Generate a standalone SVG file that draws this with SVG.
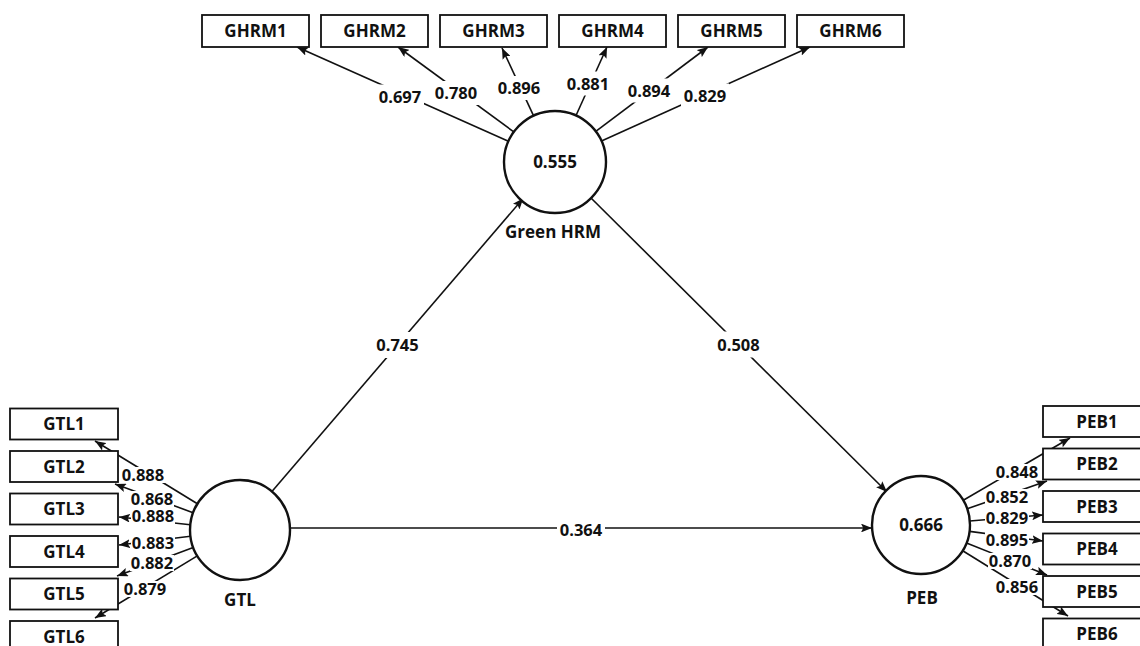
<svg xmlns="http://www.w3.org/2000/svg" width="1140" height="646" viewBox="0 0 1140 646">
<defs>
<marker id="ah" viewBox="0 0 10 8" markerWidth="11" markerHeight="8.8" refX="10" refY="4" orient="auto" markerUnits="userSpaceOnUse">
<path d="M0,0 L10,4 L0,8 L2,4 z" fill="#111"/>
</marker>
<style>
.ln{stroke:#111;stroke-width:1.6;fill:none;marker-end:url(#ah)}
.bx{fill:#fff;stroke:#111;stroke-width:1.8}
.cr{fill:#fff;stroke:#111;stroke-width:2.4}
.t{font-family:"Open Sans","Noto Sans","DejaVu Sans",sans-serif;font-weight:bold;fill:#111;text-anchor:middle}
.nm{font-size:17px}
.v{font-size:16.5px}
.bg{fill:#fff}
</style>
</defs>
<rect width="1140" height="646" fill="#fff"/>
<g id="connectors">
<line class="ln" x1="271.7" y1="491.7" x2="523.3" y2="198.3"/>
<line class="ln" x1="590" y1="197" x2="887" y2="492"/>
<line class="ln" x1="290" y1="528" x2="872" y2="528"/>
<line class="ln" x1="508.4" y1="141.2" x2="297" y2="47"/>
<line class="ln" x1="513.8" y1="131.9" x2="398" y2="47"/>
<line class="ln" x1="533.5" y1="115.7" x2="502" y2="48"/>
<line class="ln" x1="576" y1="115.5" x2="607" y2="47"/>
<line class="ln" x1="595.8" y1="131.4" x2="708" y2="47"/>
<line class="ln" x1="601.5" y1="141" x2="810" y2="47"/>
<line class="ln" x1="197.4" y1="503.8" x2="95" y2="441"/>
<line class="ln" x1="193.1" y1="512.7" x2="115" y2="484"/>
<line class="ln" x1="190.3" y1="524.7" x2="119" y2="517"/>
<line class="ln" x1="190.4" y1="536.2" x2="119" y2="545"/>
<line class="ln" x1="193.2" y1="547.5" x2="117" y2="576"/>
<line class="ln" x1="197.3" y1="555.9" x2="95" y2="618"/>
<line class="ln" x1="963.3" y1="500.3" x2="1070" y2="438"/>
<line class="ln" x1="967.2" y1="508.8" x2="1047" y2="481"/>
<line class="ln" x1="969.8" y1="521" x2="1043" y2="515"/>
<line class="ln" x1="969.6" y1="531.4" x2="1043" y2="541"/>
<line class="ln" x1="966.5" y1="543.1" x2="1047" y2="575"/>
<line class="ln" x1="962.7" y1="550.8" x2="1068" y2="616"/>
</g>
<g id="connector-labels">
<rect class="bg" x="373.5" y="332" width="48" height="26"/><text class="t v" x="397.5" y="351">0.745</text>
<rect class="bg" x="714.5" y="331.5" width="48" height="26"/><text class="t v" x="738.5" y="350.5">0.508</text>
<rect class="bg" x="557" y="518" width="48" height="24"/><text class="t v" x="581" y="536">0.364</text>
<rect class="bg" x="376" y="84.5" width="48" height="24"/><text class="t v" x="400" y="102.5">0.697</text>
<rect class="bg" x="432" y="81" width="48" height="24"/><text class="t v" x="456" y="99">0.780</text>
<rect class="bg" x="495" y="76" width="48" height="24"/><text class="t v" x="519" y="94">0.896</text>
<rect class="bg" x="564" y="71.5" width="48" height="24"/><text class="t v" x="588" y="89.5">0.881</text>
<rect class="bg" x="625" y="78.5" width="48" height="24"/><text class="t v" x="649" y="96.5">0.894</text>
<rect class="bg" x="681" y="83.5" width="48" height="24"/><text class="t v" x="705" y="101.5">0.829</text>
<rect class="bg" x="121" y="467" width="44" height="16"/><text class="t v" x="143" y="481">0.888</text>
<rect class="bg" x="130" y="491" width="44" height="16"/><text class="t v" x="152" y="505">0.868</text>
<rect class="bg" x="131" y="508" width="44" height="16"/><text class="t v" x="153" y="522">0.888</text>
<rect class="bg" x="131" y="535" width="44" height="16"/><text class="t v" x="153" y="549">0.883</text>
<rect class="bg" x="130" y="555" width="44" height="16"/><text class="t v" x="152" y="569">0.882</text>
<rect class="bg" x="123" y="581" width="44" height="16"/><text class="t v" x="145" y="595">0.879</text>
<rect class="bg" x="995" y="464" width="44" height="16"/><text class="t v" x="1017" y="478">0.848</text>
<rect class="bg" x="985" y="489" width="44" height="16"/><text class="t v" x="1007" y="503">0.852</text>
<rect class="bg" x="985" y="510" width="44" height="16"/><text class="t v" x="1007" y="524">0.829</text>
<rect class="bg" x="985" y="532" width="44" height="16"/><text class="t v" x="1007" y="546">0.895</text>
<rect class="bg" x="988" y="553" width="44" height="16"/><text class="t v" x="1010" y="567">0.870</text>
<rect class="bg" x="995" y="579" width="44" height="16"/><text class="t v" x="1017" y="593">0.856</text>
</g>
<g id="GreenHRM"><circle class="cr" cx="555" cy="162" r="51"/><text class="t nm" x="555" y="168">0.555</text><text class="t nm" x="553" y="238">Green HRM</text></g>
<g id="GTL"><circle class="cr" cx="240" cy="530" r="50"/><text class="t nm" x="240" y="606">GTL</text></g>
<g id="PEB"><circle class="cr" cx="921" cy="525" r="49"/><text class="t nm" x="921" y="531">0.666</text><text class="t nm" x="922" y="604">PEB</text></g>
<g id="GHRM1"><rect class="bx" x="202" y="15" width="107" height="32"/><text class="t nm" x="255.5" y="37">GHRM1</text></g>
<g id="GHRM2"><rect class="bx" x="321" y="15" width="107" height="32"/><text class="t nm" x="374.5" y="37">GHRM2</text></g>
<g id="GHRM3"><rect class="bx" x="440" y="15" width="107" height="32"/><text class="t nm" x="493.5" y="37">GHRM3</text></g>
<g id="GHRM4"><rect class="bx" x="559" y="15" width="107" height="32"/><text class="t nm" x="612.5" y="37">GHRM4</text></g>
<g id="GHRM5"><rect class="bx" x="678" y="15" width="107" height="32"/><text class="t nm" x="731.5" y="37">GHRM5</text></g>
<g id="GHRM6"><rect class="bx" x="797" y="15" width="107" height="32"/><text class="t nm" x="850.5" y="37">GHRM6</text></g>
<g id="GTL1"><rect class="bx" x="10" y="408.5" width="108" height="31"/><text class="t nm" x="64" y="430">GTL1</text></g>
<g id="GTL2"><rect class="bx" x="10" y="451" width="108" height="31"/><text class="t nm" x="64" y="472.5">GTL2</text></g>
<g id="GTL3"><rect class="bx" x="10" y="493.5" width="108" height="31"/><text class="t nm" x="64" y="515">GTL3</text></g>
<g id="GTL4"><rect class="bx" x="10" y="536" width="108" height="31"/><text class="t nm" x="64" y="557.5">GTL4</text></g>
<g id="GTL5"><rect class="bx" x="10" y="578.5" width="108" height="31"/><text class="t nm" x="64" y="600">GTL5</text></g>
<g id="GTL6"><rect class="bx" x="10" y="621" width="108" height="31"/><text class="t nm" x="64" y="642.5">GTL6</text></g>
<g id="PEB1"><rect class="bx" x="1043" y="406" width="108" height="31"/><text class="t nm" x="1097" y="427.5">PEB1</text></g>
<g id="PEB2"><rect class="bx" x="1043" y="448.5" width="108" height="31"/><text class="t nm" x="1097" y="470">PEB2</text></g>
<g id="PEB3"><rect class="bx" x="1043" y="491" width="108" height="31"/><text class="t nm" x="1097" y="512.5">PEB3</text></g>
<g id="PEB4"><rect class="bx" x="1043" y="533.5" width="108" height="31"/><text class="t nm" x="1097" y="555">PEB4</text></g>
<g id="PEB5"><rect class="bx" x="1043" y="576" width="108" height="31"/><text class="t nm" x="1097" y="597.5">PEB5</text></g>
<g id="PEB6"><rect class="bx" x="1043" y="618.5" width="108" height="31"/><text class="t nm" x="1097" y="640">PEB6</text></g>
</svg>
